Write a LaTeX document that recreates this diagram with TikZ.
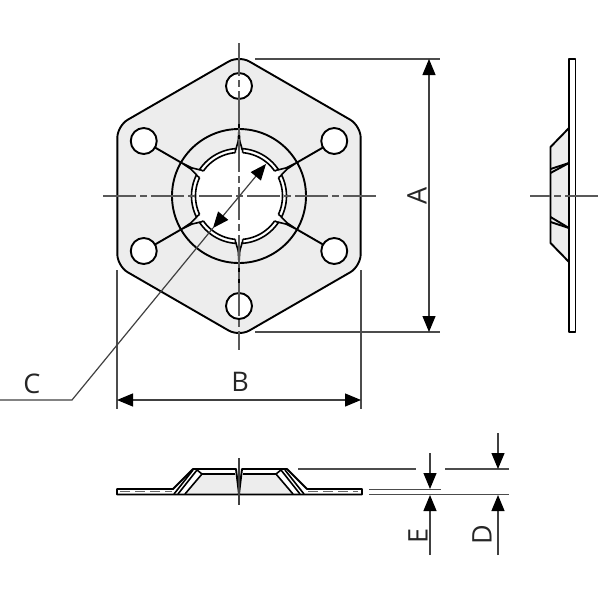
\documentclass[tikz,border=0pt]{standalone}
\usepackage{fontspec}
\setmainfont{Open Sans}
\usetikzlibrary{arrows.meta}

\begin{document}
\begin{tikzpicture}[
      x=1pt, y=-1pt,
      part/.style={line width=1.9pt, black, line join=round},
      thinpart/.style={line width=1.6pt, black},
      axisline/.style={line width=1.3pt, black!65, dash pattern=on 33pt off 4pt on 7pt off 4pt},
      extline/.style={line width=1.2pt, black!70},
      dimline/.style={line width=1.2pt, black!75},
      head/.style={-{Triangle[length=16pt,width=13pt,black]}},
      heads/.style={{Triangle[length=16pt,width=13pt,black]}-{Triangle[length=16pt,width=13pt,black]}},
      dimtext/.style={font=\fontsize{27}{27}\selectfont, inner sep=0pt, black!85}
    ]
    \useasboundingbox (0,0) rectangle (600,600);

    % front view
    \begin{scope}[shift={(239,196)}]
    \draw [part, fill=black!7, rounded corners=12pt]
      (90:140.5) -- (30:140.5) -- (-30:140.5) -- (-90:140.5) -- (-150:140.5) -- (150:140.5) -- cycle;
    \draw [part] (0,0) circle (67);
    \fill [white] (0,0) circle (47.5);
    \foreach \a in {30,90,...,330} {
      \draw [part, fill=white] (\a:110) circle (13);
      \draw [part] (\a:97) -- (\a:67);
      \draw [thinpart, fill=black!7] (\a-4:46.5) -- (\a-0.8:55) -- (\a:67) -- (\a+0.8:55) -- (\a+4:46.5);
      \draw [thinpart] plot [domain=\a+4:\a+56, samples=16] (\x:47.5);
      \draw [thinpart] plot [domain=\a+5:\a+55, samples=16] (\x:43.5);
      \draw [thinpart] (\a+4:47.5) -- (\a+5:43.5);
      \draw [thinpart] (\a-4:47.5) -- (\a-5:43.5);
    }
    \end{scope}

    % center lines
    \draw [axisline] (103,196) -- (376,196);
    \draw [axisline] (239,43) -- (239,350);

    % dimension A
    \coordinate (a1) at (429,59);
    \coordinate (a2) at (429,332);
    \draw [extline] (255,59) -- (440,59);
    \draw [extline] (255,332) -- (440,332);
    \draw [dimline, heads] (a1) -- (a2);
    \node (labela) [dimtext, rotate=90] at (417,196) {A};

    % dimension B
    \coordinate (b1) at (117,400);
    \coordinate (b2) at (361,400);
    \draw [extline] (117,270) -- (117,409);
    \draw [extline] (361,270) -- (361,409);
    \draw [dimline, heads] (b1) -- (b2);
    \node (labelb) [dimtext] at (240,382) {B};

    % dimension C
    \coordinate (c0) at (0,400);
    \coordinate (c1) at (72,400);
    \coordinate (c2) at (213,228);
    \coordinate (c3) at (266,164);
    \draw [dimline] (c0) -- (c1) -- (c2);
    \draw [dimline, heads] (c2) -- (c3);
    \node (labelc) [dimtext] at (32,384) {C};

    % side view
    \draw [part, fill=white] (569,59) rectangle (575.5,332);
    \draw [part, fill=black!7] (569,128) -- (550.5,147) -- (550.5,243) -- (569,262) -- cycle;
    \draw [part] (550.5,173) -- (569,163);
    \draw [part] (550.5,169) -- (569,163);
    \draw [part] (550.5,217) -- (569,228);
    \draw [part] (550.5,222) -- (569,228);
    \draw [axisline, dash phase=13pt] (530,196) -- (600,196);

    % bottom view
    \fill [black!7] (185,494) -- (202,474) -- (276,474) -- (293,494) -- cycle;
    \draw [part] (117,489) -- (173,489) -- (193,469) -- (236,469) -- (239,494) -- (242,469) -- (287,469) -- (307,489) -- (362,489) -- (362,494.5) -- (117,494.5) -- cycle;
    \draw [thinpart] (202,474) -- (235,474);
    \draw [thinpart] (243,474) -- (276,474);
    \draw [thinpart] (174,494) -- (193,470);
    \draw [thinpart] (178,494) -- (197,470);
    \draw [thinpart] (185,494) -- (202,474);
    \draw [thinpart] (197,470) -- (202,474);
    \draw [thinpart] (304,494) -- (285,470);
    \draw [thinpart] (300,494) -- (281,470);
    \draw [thinpart] (293,494) -- (276,474);
    \draw [thinpart] (281,470) -- (276,474);
    \draw [line width=0.8pt, black!60, dash pattern=on 10pt off 5pt] (120,491.7) -- (172,491.7);
    \draw [line width=0.8pt, black!60, dash pattern=on 10pt off 5pt] (308,491.7) -- (358,491.7);
    \draw [dimline] (239,458) -- (239,505);

    % dimensions E and D
    \draw [extline] (298,469) -- (416,469);
    \draw [extline] (445,469) -- (509,469);
    \draw [extline] (369,489.5) -- (441,489.5);
    \draw [extline] (369,494.5) -- (509,494.5);
    \coordinate (e1) at (430,453);
    \coordinate (e2) at (430,489);
    \coordinate (e3) at (430,555);
    \coordinate (e4) at (430,495);
    \draw [dimline, head] (e1) -- (e2);
    \draw [dimline, head] (e3) -- (e4);
    \coordinate (d1) at (498,433);
    \coordinate (d2) at (498,469);
    \coordinate (d3) at (498,555);
    \coordinate (d4) at (498,495);
    \draw [dimline, head] (d1) -- (d2);
    \draw [dimline, head] (d3) -- (d4);
    \node (labele) [dimtext, rotate=90] at (418,536) {E};
    \node (labeld) [dimtext, rotate=90] at (482,535) {D};
\end{tikzpicture}
\end{document}
